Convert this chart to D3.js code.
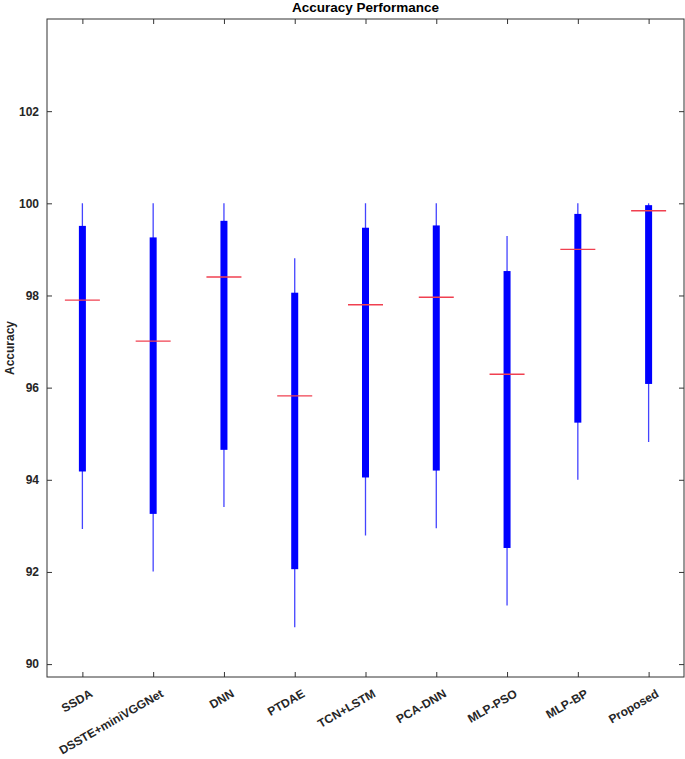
<!DOCTYPE html>
<html>
<head>
<meta charset="utf-8">
<script src="https://cdn.jsdelivr.net/npm/d3@7"></script>
<style>
  html, body { margin: 0; padding: 0; background: #fff; }
  svg { display: block; font-family: "Liberation Sans", Arial, sans-serif; }
</style>
</head>
<body>
<svg id="chart" width="685" height="759"></svg>
<script>
const categories = ["SSDA", "DSSTE+miniVGGNet", "DNN", "PTDAE", "TCN+LSTM", "PCA-DNN", "MLP-PSO", "MLP-BP", "Proposed"];
const whiskerLow  = [92.93, 92.01, 93.41, 90.80, 92.79, 92.95, 91.27, 94.00, 94.82];
const q1          = [94.18, 93.26, 94.65, 92.06, 94.05, 94.20, 92.52, 95.24, 96.08];
const medians     = [97.90, 97.01, 98.40, 95.82, 97.80, 97.96, 96.29, 99.00, 99.84];
const q3          = [99.51, 99.26, 99.62, 98.06, 99.47, 99.52, 98.53, 99.77, 99.96];
const whiskerHigh = [100.00, 100.00, 100.00, 98.81, 100.00, 100.00, 99.29, 100.00, 100.00];
const yTicks = [90, 92, 94, 96, 98, 100, 102];
const titleText = "Accuracy Performance";
const yLabelText = "Accuracy";

const svg = d3.select("#chart");
const mLeft = 47, mRight = 684, mTop = 19, mBottom = 677;

const x = d3.scalePoint().domain(categories).range([mLeft, mRight]).padding(0.5);
const y = d3.scaleLinear().domain([89.72, 104]).range([mBottom, mTop]);

const data = categories.map((c, i) => ({
  c, lo: whiskerLow[i], q1: q1[i], med: medians[i], q3: q3[i], hi: whiskerHigh[i]
}));

// Whiskers
svg.append("g").selectAll("line").data(data).join("line")
  .attr("x1", d => x(d.c)).attr("x2", d => x(d.c))
  .attr("y1", d => y(d.lo)).attr("y2", d => y(d.hi))
  .attr("stroke", "#4444ff").attr("stroke-width", 1.3);

// Boxes
svg.append("g").selectAll("rect").data(data).join("rect")
  .attr("x", d => x(d.c) - 3.5).attr("width", 7)
  .attr("y", d => y(d.q3)).attr("height", d => y(d.q1) - y(d.q3))
  .attr("fill", "#0000ff");

// Medians
svg.append("g").selectAll("line").data(data).join("line")
  .attr("x1", d => x(d.c) - 17.5).attr("x2", d => x(d.c) + 17.5)
  .attr("y1", d => y(d.med)).attr("y2", d => y(d.med))
  .attr("stroke", "#f04050").attr("stroke-width", 1.4);

// Axes
const axisColor = "#333333";
const gL = svg.append("g").attr("transform", `translate(${mLeft},0)`)
  .call(d3.axisLeft(y).tickValues(yTicks).tickSizeInner(-5).tickSizeOuter(0).tickPadding(8));
const gR = svg.append("g").attr("transform", `translate(${mRight},0)`)
  .call(d3.axisRight(y).tickValues(yTicks).tickSizeInner(-5).tickSizeOuter(0).tickFormat(""));
const gB = svg.append("g").attr("transform", `translate(0,${mBottom})`)
  .call(d3.axisBottom(x).tickSizeInner(-5).tickSizeOuter(0).tickFormat(""));
const gT = svg.append("g").attr("transform", `translate(0,${mTop})`)
  .call(d3.axisTop(x).tickSizeInner(-5).tickSizeOuter(0).tickFormat(""));

[gL, gR, gB, gT].forEach(g => {
  g.select(".domain").remove();
  g.selectAll("line").attr("stroke", axisColor).attr("stroke-width", 1);
});
gL.selectAll("text").attr("fill", "#262626").attr("font-size", 12).attr("font-weight", "bold")
  .attr("font-family", "'Liberation Sans', Arial, sans-serif");

// Axes box
svg.append("rect").attr("x", mLeft).attr("y", mTop)
  .attr("width", mRight - mLeft).attr("height", mBottom - mTop)
  .attr("fill", "none").attr("stroke", axisColor).attr("stroke-width", 1);

// Rotated x labels
svg.append("g").selectAll("text").data(categories).join("text")
  .attr("transform", d => `translate(${x(d) + 11},${mBottom + 19}) rotate(-30)`)
  .attr("text-anchor", "end")
  .attr("font-size", 12).attr("font-weight", "bold").attr("fill", "#262626")
  .text(d => d);

// Title
svg.append("text").attr("x", (mLeft + mRight) / 2).attr("y", 12)
  .attr("text-anchor", "middle").attr("font-size", 13.5).attr("font-weight", "bold")
  .attr("fill", "#000").text(titleText);

// Y label
svg.append("text")
  .attr("transform", `translate(14,${(mTop + mBottom) / 2}) rotate(-90)`)
  .attr("text-anchor", "middle").attr("font-size", 12).attr("font-weight", "bold")
  .attr("fill", "#262626").text(yLabelText);
</script>
</body>
</html>
